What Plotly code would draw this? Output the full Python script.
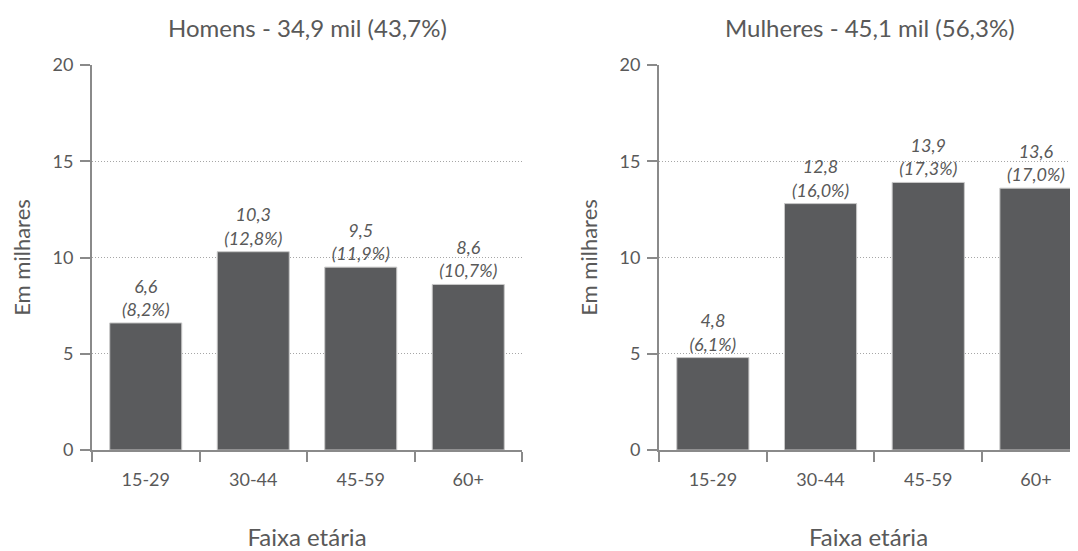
import plotly.graph_objects as go

categories = ["15-29", "30-44", "45-59", "60+"]
homens_vals = [6.6, 10.3, 9.5, 8.6]
homens_pct = [8.2, 12.8, 11.9, 10.7]
mulheres_vals = [4.8, 12.8, 13.9, 13.6]
mulheres_pct = [6.1, 16.0, 17.3, 17.0]
titles = ["Homens - 34,9 mil (43,7%)", "Mulheres - 45,1 mil (56,3%)"]
y_ticks = [0, 5, 10, 15, 20]

# page body has an 8px margin; figure sized to fit the window
OFF = 8
W, H = 1078 - OFF, 551 - OFF
FONT = "Lato"
TXT = "#595959"
BAR = "#5a5b5d"

# plot geometry (figure pixels)
ML, MT = 92 - OFF, 65.3 - OFF
MB = H - (450.3 - OFF)
PW, PH = W - ML, H - MT - MB


def fmt(v):
    return f"{v:.1f}".replace(".", ",")


def labels(vals, pcts):
    return [f"<i>{fmt(v)}<br>({fmt(p)}%)</i>" for v, p in zip(vals, pcts)]


def bar(vals, pcts, xa, ya):
    return go.Bar(x=categories, y=vals, text=labels(vals, pcts),
                  textposition="outside", cliponaxis=False, width=0.67,
                  constraintext="none",
                  marker=dict(color=BAR, line=dict(color="#c8c8c8", width=1)),
                  textfont=dict(family=FONT, size=18, color=TXT),
                  xaxis=xa, yaxis=ya, showlegend=False)


fig = go.Figure()
fig.add_trace(bar(homens_vals, homens_pct, "x", "y"))
fig.add_trace(bar(mulheres_vals, mulheres_pct, "x2", "y2"))

xd1 = [0, (522 - OFF - ML) / PW]
xd2 = [(659 - OFF - ML) / PW, 1.0]
cat_w = 107.7
right_max = -0.5 + (1078 - 659) / cat_w

axis_common = dict(showline=True, linecolor="#8a8a8a", linewidth=2, automargin=False,
                   ticks="outside", tickcolor="#8a8a8a", ticklen=10, tickwidth=1.5,
                   tickfont=dict(family=FONT, size=18, color=TXT))
xcommon = dict(axis_common, tickson="boundaries", showgrid=False,
               title=dict(text="Faixa etária", font=dict(family=FONT, size=24, color=TXT), standoff=44),
               ticklabelstandoff=12)
ycommon = dict(axis_common, range=[0, 20], tickvals=y_ticks, showgrid=True,
               gridcolor="#a6a6a6", griddash="1px,2px", gridwidth=1, zeroline=False,
               ticklabelstandoff=3,
               title=dict(text="Em milhares", font=dict(family=FONT, size=22, color=TXT), standoff=16))

title_y = 1 + (MT - (28 - OFF)) / PH
fig.update_layout(
    width=W, height=H, margin=dict(l=ML, r=0, t=MT, b=MB, autoexpand=False),
    plot_bgcolor="white", paper_bgcolor="white",
    xaxis=dict(xcommon, domain=xd1, anchor="y", range=[-0.5, 3.5]),
    yaxis=dict(ycommon, domain=[0, 1], anchor="x"),
    xaxis2=dict(xcommon, domain=xd2, anchor="y2", range=[-0.5, right_max]),
    yaxis2=dict(ycommon, domain=[0, 1], anchor="x2"),
    annotations=[
        dict(text=titles[0], x=(307 - OFF - ML) / PW, y=title_y, xref="paper", yref="paper",
             xanchor="center", yanchor="middle", showarrow=False,
             font=dict(family=FONT, size=24, color=TXT)),
        dict(text=titles[1], x=(870 - OFF - ML) / PW, y=title_y, xref="paper", yref="paper",
             xanchor="center", yanchor="middle", showarrow=False,
             font=dict(family=FONT, size=24, color=TXT)),
    ],
)

fig.write_html("out.html")
